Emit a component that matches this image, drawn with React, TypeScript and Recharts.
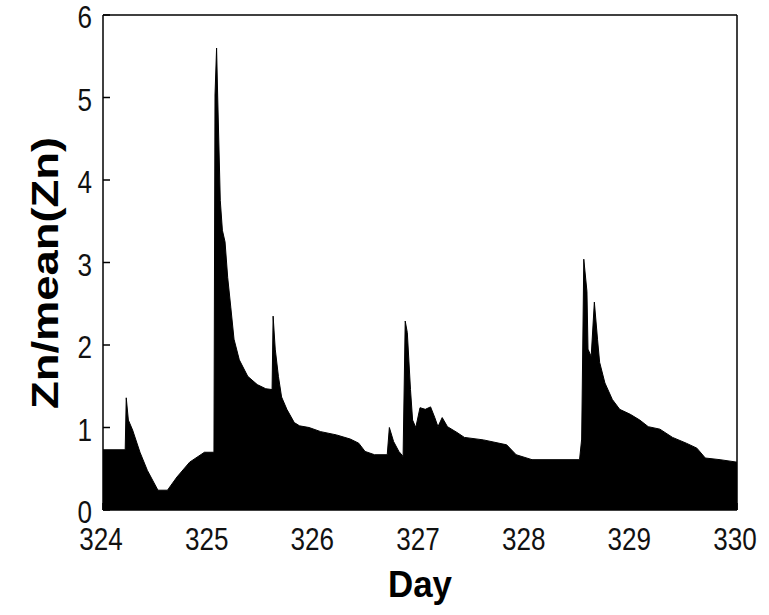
import { AreaChart, Area, XAxis, YAxis } from 'recharts';

// day of year and normalised Zn concentration
const days = [
    324.0, 324.21, 324.22, 324.24, 324.28, 324.35, 324.42, 324.52, 324.61, 324.7,
    324.82, 324.96, 325.05, 325.06, 325.075, 325.085, 325.11, 325.13, 325.155, 325.18,
    325.21, 325.24, 325.29, 325.37, 325.46, 325.54, 325.6, 325.61, 325.63, 325.66,
    325.69, 325.74, 325.81, 325.86, 325.95, 326.06, 326.21, 326.34, 326.42, 326.48,
    326.57, 326.69, 326.71, 326.75, 326.8, 326.84, 326.86, 326.88, 326.91, 326.93,
    326.96, 327.0, 327.05, 327.1, 327.14, 327.17, 327.21, 327.26, 327.35, 327.42,
    327.6, 327.82, 327.91, 328.06, 328.51, 328.53, 328.55, 328.58, 328.59, 328.62,
    328.65, 328.68, 328.7, 328.75, 328.82, 328.89, 328.99, 329.08, 329.16, 329.27,
    329.39, 329.52, 329.62, 329.7, 329.84, 330.0,
];
const znRatio = [
    0.73, 0.73, 1.36, 1.09, 0.97, 0.7, 0.48, 0.24, 0.24, 0.4,
    0.58, 0.7, 0.7, 5.03, 5.6, 5.03, 3.75, 3.39, 3.25, 2.82,
    2.45, 2.07, 1.82, 1.62, 1.52, 1.47, 1.46, 2.35, 1.95, 1.62,
    1.37, 1.22, 1.06, 1.02, 1.0, 0.95, 0.91, 0.86, 0.81, 0.71,
    0.67, 0.67, 1.0, 0.83, 0.71, 0.65, 2.29, 2.15, 1.46, 1.09,
    1.0, 1.24, 1.22, 1.25, 1.12, 1.01, 1.12, 1.01, 0.94, 0.88,
    0.85, 0.79, 0.67, 0.61, 0.61, 0.86, 3.04, 2.65, 1.95, 1.86,
    2.52, 2.07, 1.79, 1.54, 1.34, 1.22, 1.16, 1.09, 1.01, 0.98,
    0.88, 0.81, 0.75, 0.63, 0.61, 0.58,
];
const dayTicks = [324, 325, 326, 327, 328, 329, 330];
const ratioTicks = [0, 1, 2, 3, 4, 5, 6];

const data = days.map((d, i) => ({ day: d, zn: znRatio[i] }));

const tickFont = '"Liberation Sans", Arial, sans-serif';

// matlab-ish narrow digits: squeeze each glyph to ~14px wide
const XTick = (props: any) => {
    const { x, y, payload } = props;
    const label = String(payload.value);
    return (
        <text
            x={x - 2}
            y={y + 22}
            textAnchor="middle"
            fontFamily={tickFont}
            fontSize={31}
            fill="#111"
            textLength={label.length * 14.5}
            lengthAdjust="spacingAndGlyphs"
        >
            {label}
        </text>
    );
};

const YTick = (props: any) => {
    const { x, y, payload } = props;
    const label = String(payload.value);
    return (
        <text
            x={x}
            y={y + 13}
            textAnchor="end"
            fontFamily={tickFont}
            fontSize={31}
            fill="#111"
            textLength={label.length * 14.5}
            lengthAdjust="spacingAndGlyphs"
        >
            {label}
        </text>
    );
};

export default function App() {
    return (
        <div style={{ position: 'absolute', left: 0, top: 0, width: 769, height: 615, background: '#fff' }}>
            <AreaChart
                width={769}
                height={615}
                data={data}
                margin={{ top: 14, right: 31, bottom: 65, left: 43 }}
            >
                <XAxis
                    xAxisId="bottom"
                    dataKey="day"
                    type="number"
                    domain={[324, 330]}
                    ticks={dayTicks}
                    allowDataOverflow
                    height={40}
                    tickSize={-7}
                    tickMargin={25}
                    tick={<XTick />}
                    axisLine={{ stroke: '#000', strokeWidth: 1.5 }}
                    tickLine={{ stroke: '#000', strokeWidth: 1.5 }}
                />
                <XAxis
                    xAxisId="top"
                    orientation="top"
                    dataKey="day"
                    type="number"
                    domain={[324, 330]}
                    ticks={dayTicks}
                    height={1}
                    tickSize={-7}
                    tick={false}
                    axisLine={{ stroke: '#000', strokeWidth: 1.5 }}
                    tickLine={{ stroke: '#000', strokeWidth: 1.5 }}
                />
                <YAxis
                    yAxisId="left"
                    domain={[0, 6]}
                    ticks={ratioTicks}
                    width={60}
                    tickSize={-7}
                    tickMargin={18}
                    tick={<YTick />}
                    axisLine={{ stroke: '#000', strokeWidth: 1.5 }}
                    tickLine={{ stroke: '#000', strokeWidth: 1.5 }}
                />
                <YAxis
                    yAxisId="right"
                    orientation="right"
                    domain={[0, 6]}
                    ticks={ratioTicks}
                    width={1}
                    tickSize={-7}
                    tick={false}
                    axisLine={{ stroke: '#000', strokeWidth: 1.5 }}
                    tickLine={{ stroke: '#000', strokeWidth: 1.5 }}
                />
                <Area
                    xAxisId="bottom"
                    yAxisId="left"
                    dataKey="zn"
                    type="linear"
                    stroke="#000"
                    strokeWidth={1}
                    fill="#000"
                    fillOpacity={1}
                    dot={false}
                    activeDot={false}
                    isAnimationActive={false}
                />
            </AreaChart>
            <svg width={769} height={615} style={{ position: 'absolute', left: 0, top: 0, pointerEvents: 'none' }}>
                <text
                    x={420}
                    y={597}
                    textAnchor="middle"
                    fontFamily="Liberation Sans, Arial, sans-serif"
                    fontWeight="bold"
                    fontSize={37}
                    fill="#000"
                    textLength={64}
                    lengthAdjust="spacingAndGlyphs"
                >
                    Day
                </text>
                <text
                    x={0}
                    y={0}
                    transform="translate(58 273) rotate(-90)"
                    textAnchor="middle"
                    fontFamily="Liberation Sans, Arial, sans-serif"
                    fontWeight="bold"
                    fontSize={37}
                    fill="#000"
                    textLength={272}
                    lengthAdjust="spacingAndGlyphs"
                >
                    Zn/mean(Zn)
                </text>
            </svg>
        </div>
    );
}
